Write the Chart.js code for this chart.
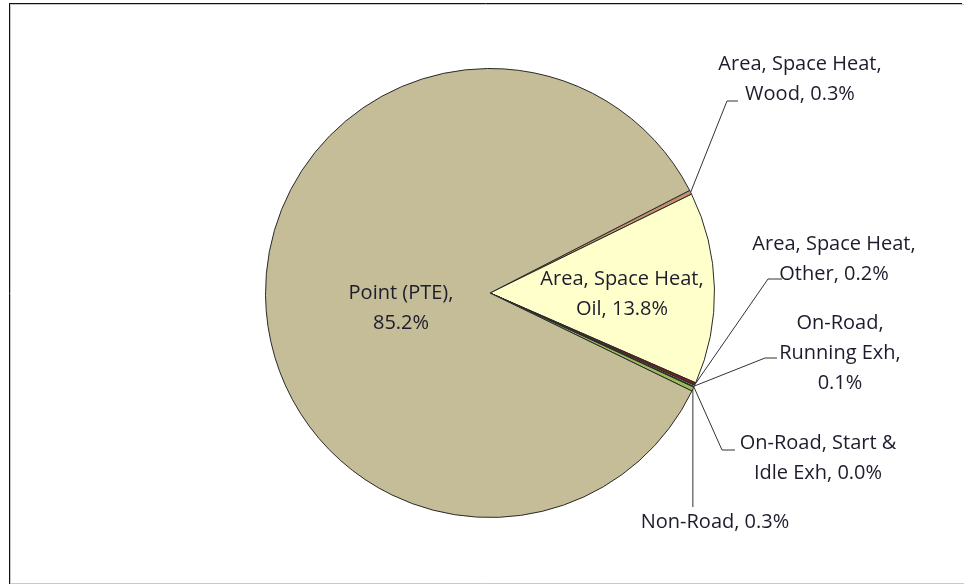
<!DOCTYPE html>
<html>
<head>
<meta charset="utf-8">
<script src="https://cdn.jsdelivr.net/npm/chart.js@4.4.1/dist/chart.umd.min.js"></script>
<style>
  html, body { margin: 0; padding: 0; background: #fff; }
  #wrap { width: 964px; height: 585px; position: relative; }
</style>
</head>
<body>
<div id="wrap"><canvas id="pie"></canvas></div>
<script>
// data, clockwise from the Wood slice
const categories = ['Area, Space Heat, Wood', 'Area, Space Heat, Oil', 'Area, Space Heat, Other',
    'On-Road, Running Exh', 'On-Road, Start & Idle Exh', 'Non-Road', 'Point (PTE)'];
const shares = [0.3, 13.8, 0.2, 0.1, 0.04, 0.3, 85.2];
const labelNames = [['Area, Space Heat,', 'Wood,'], ['Area, Space Heat,', 'Oil,'], ['Area, Space Heat,', 'Other,'],
    ['On-Road,', 'Running Exh,', ''], ['On-Road, Start &', 'Idle Exh,'], ['Non-Road,'], ['Point (PTE),', '']];

const sliceColors = ['#c8906a', '#ffffcc', '#7a1e1e', '#c3d69b', '#4f6228', '#9bbb59', '#c4bd97'];

// label placement (first line centre) and leader routing
const labelLayout = [
    { x: 800, y: 64, elbow: [727, 101], end: [738, 101] },
    { x: 622, y: 279 },
    { x: 834, y: 244, elbow: [768, 279], end: [782, 279] },
    { x: 840, y: 323, elbow: [765, 358], end: [777, 358] },
    { x: 818, y: 443, elbow: [722, 450], end: [735, 450] },
    { x: 715, y: 522, vertical: 507 },
    { x: 401, y: 293 }
];

const FONT = '20px "Open Sans"';
const LINE_H = 30;

function labelText(i) {
    const lines = labelNames[i].slice();
    const pct = shares[i].toFixed(1) + '%';
    const last = lines.length - 1;
    lines[last] = lines[last] === '' ? pct : lines[last] + ' ' + pct;
    return lines;
}

const framePlugin = {
    id: 'frame',
    beforeDraw(chart) {
        const ctx = chart.ctx;
        ctx.save();
        ctx.fillStyle = '#fff';
        ctx.fillRect(0, 0, chart.width, chart.height);
        ctx.strokeStyle = '#c8c8c8';
        ctx.lineWidth = 1;
        ctx.beginPath();
        ctx.moveTo(9, 583.5); ctx.lineTo(964, 583.5);
        ctx.moveTo(10.5, 4); ctx.lineTo(10.5, 583);
        ctx.moveTo(10, 4.5); ctx.lineTo(964, 4.5);
        ctx.stroke();
        ctx.strokeStyle = '#111';
        ctx.beginPath();
        ctx.moveTo(9.5, 3); ctx.lineTo(9.5, 584);
        ctx.moveTo(9, 3.5); ctx.lineTo(962, 3.5);
        ctx.stroke();
        ctx.restore();
    }
};

const labelPlugin = {
    id: 'sliceLabels',
    afterDatasetsDraw(chart) {
        const ctx = chart.ctx;
        const arcs = chart.getDatasetMeta(0).data;
        ctx.save();
        ctx.font = FONT;
        ctx.fillStyle = '#1c1c2c';
        ctx.textAlign = 'center';
        ctx.textBaseline = 'middle';
        ctx.strokeStyle = '#333';
        ctx.lineWidth = 1;
        arcs.forEach((arc, i) => {
            const lay = labelLayout[i];
            const p = arc.getProps(['x', 'y', 'startAngle', 'endAngle', 'outerRadius'], true);
            const mid = (p.startAngle + p.endAngle) / 2;
            const sx = p.x + Math.cos(mid) * p.outerRadius;
            const sy = p.y + Math.sin(mid) * p.outerRadius;
            if (lay.elbow) {
                ctx.beginPath();
                ctx.moveTo(sx, sy);
                ctx.lineTo(lay.elbow[0], lay.elbow[1]);
                ctx.lineTo(lay.end[0], lay.end[1]);
                ctx.stroke();
            } else if (lay.vertical) {
                ctx.beginPath();
                ctx.moveTo(sx, sy);
                ctx.lineTo(sx, lay.vertical);
                ctx.stroke();
            }
            labelText(i).forEach((t, k) => ctx.fillText(t, lay.x, lay.y + k * LINE_H));
        });
        ctx.restore();
    }
};

new Chart(document.getElementById('pie'), {
    type: 'pie',
    data: {
        labels: categories,
        datasets: [{
            data: shares,
            backgroundColor: sliceColors,
            borderColor: '#2a2a2a',
            borderWidth: 1
        }]
    },
    options: {
        responsive: true,
        maintainAspectRatio: false,
        animation: false,
        rotation: 62.8,
        layout: { padding: { left: 265, right: 249, top: 68, bottom: 67 } },
        plugins: {
            legend: { display: false },
            tooltip: { enabled: false }
        }
    },
    plugins: [framePlugin, labelPlugin]
});
</script>
</body>
</html>
